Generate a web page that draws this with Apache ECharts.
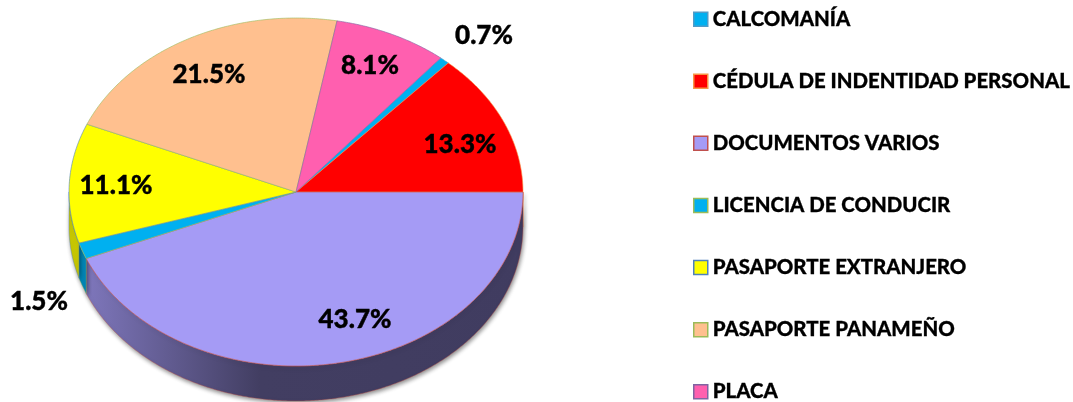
<!DOCTYPE html>
<html>
<head>
<meta charset="utf-8">
<style>
html,body{margin:0;padding:0;background:#fff;}
#chart{width:1073px;height:402px;}
</style>
<script src="https://cdn.jsdelivr.net/npm/echarts@6/dist/echarts.min.js"></script>
</head>
<body>
<div id="chart"></div>
<script>
// datos
var categories=['CALCOMANÍA','CÉDULA DE INDENTIDAD PERSONAL','DOCUMENTOS VARIOS','LICENCIA DE CONDUCIR','PASAPORTE EXTRANJERO','PASAPORTE PANAMEÑO','PLACA'];
var values=[0.7,13.3,43.7,1.5,11.1,21.5,8.1];

// estilos
var colors=['#00B0F0','#FF0000','#A59BF5','#00B0F0','#FFFF00','#FFC08F','#FF5FAF'];
var borders=['#4F9BC8','#F79646','#C0504D','#9BBB59','#4F81BD','#9BBB59','#8064A2'];
var labelPos=[[484,36],[460,145],[355,320],[39,302],[116,186],[209,75],[370,66]];

// geometria de la elipse
var cx=296,cy=192,rx=227,ry=174,depth=35;
var startAngle=-50.4;

var total=values.reduce(function(a,b){return a+b;},0);
var spans=[];
var acc=startAngle;
values.forEach(function(v){
    var end=acc+v/total*360;
    spans.push([acc,end]);
    acc=end;
});

function pt(deg,dy){
    var r=deg*Math.PI/180;
    return [cx+rx*Math.cos(r),cy+ry*Math.sin(r)+(dy||0)];
}

function arc(a0,a1,dy){
    var pts=[];
    var n=Math.max(2,Math.ceil((a1-a0)/0.5));
    for(var i=0;i<=n;i++){
        pts.push(pt(a0+(a1-a0)*i/n,dy));
    }
    return pts;
}

function shade(hex,f){
    var c=echarts.color.parse(hex);
    return 'rgb('+Math.round(c[0]*f)+','+Math.round(c[1]*f)+','+Math.round(c[2]*f)+')';
}

function wallGradient(color){
    return new echarts.graphic.LinearGradient(cx-rx,0,cx+rx,0,[
        {offset:0,color:shade(color,0.8)},
        {offset:0.42,color:shade(color,0.4)},
        {offset:1,color:shade(color,0.39)}
    ],true);
}

// cara lateral: solo se ve la mitad de abajo
function renderWall(params){
    var i=params.dataIndex;
    var a0=Math.max(spans[i][0],0),a1=Math.min(spans[i][1],180);
    if(a1<=a0){return {type:'group',children:[]};}
    return {
        type:'polygon',
        shape:{points:arc(a0,a1,0).concat(arc(a0,a1,depth).reverse())},
        style:{
            fill:wallGradient(colors[i]),
            stroke:borders[i],
            lineWidth:0.4,
            shadowBlur:4,
            shadowColor:'rgba(0,0,0,0.45)',
            shadowOffsetX:1,
            shadowOffsetY:2
        }
    };
}

function makeTop(i){
    return function(){
        return {
            type:'polygon',
            shape:{points:[[cx,cy]].concat(arc(spans[i][0],spans[i][1],0))},
            style:{fill:colors[i],stroke:borders[i],lineWidth:0.6}
        };
    };
}

function renderLabel(params){
    var i=params.dataIndex;
    return {
        type:'text',
        x:labelPos[i][0],
        y:labelPos[i][1],
        style:{
            text:values[i].toFixed(1)+'%',
            fill:'#000',
            font:'900 26px Lato',
            stroke:'#000',
            lineWidth:0.4,
            align:'center',
            verticalAlign:'middle'
        }
    };
}

var series=[{
    name:'walls',
    type:'custom',
    coordinateSystem:'none',
    silent:true,
    z:1,
    renderItem:renderWall,
    data:values
}];
categories.forEach(function(name,i){
    series.push({
        name:name,
        type:'custom',
        coordinateSystem:'none',
        silent:true,
        z:2,
        renderItem:makeTop(i),
        data:[values[i]]
    });
});
series.push({
    name:'labels',
    type:'custom',
    coordinateSystem:'none',
    silent:true,
    z:3,
    renderItem:renderLabel,
    data:values
});

var chart=echarts.init(document.getElementById('chart'));
var option={
    animation:false,
    backgroundColor:'#fff',
    legend:{
        orient:'vertical',
        left:693,
        top:9,
        padding:0,
        itemWidth:14,
        itemHeight:14,
        itemGap:41.8,
        selectedMode:false,
        textStyle:{color:'#000',fontFamily:'Lato',fontWeight:900,fontSize:20.4,lineHeight:20,textBorderColor:'#000',textBorderWidth:0.3},
        data:categories.map(function(name,i){
            return {
                name:name,
                icon:'rect',
                itemStyle:{color:colors[i],borderColor:borders[i],borderWidth:1.5}
            };
        })
    },
    series:series
};
chart.setOption(option);
</script>
</body>
</html>
